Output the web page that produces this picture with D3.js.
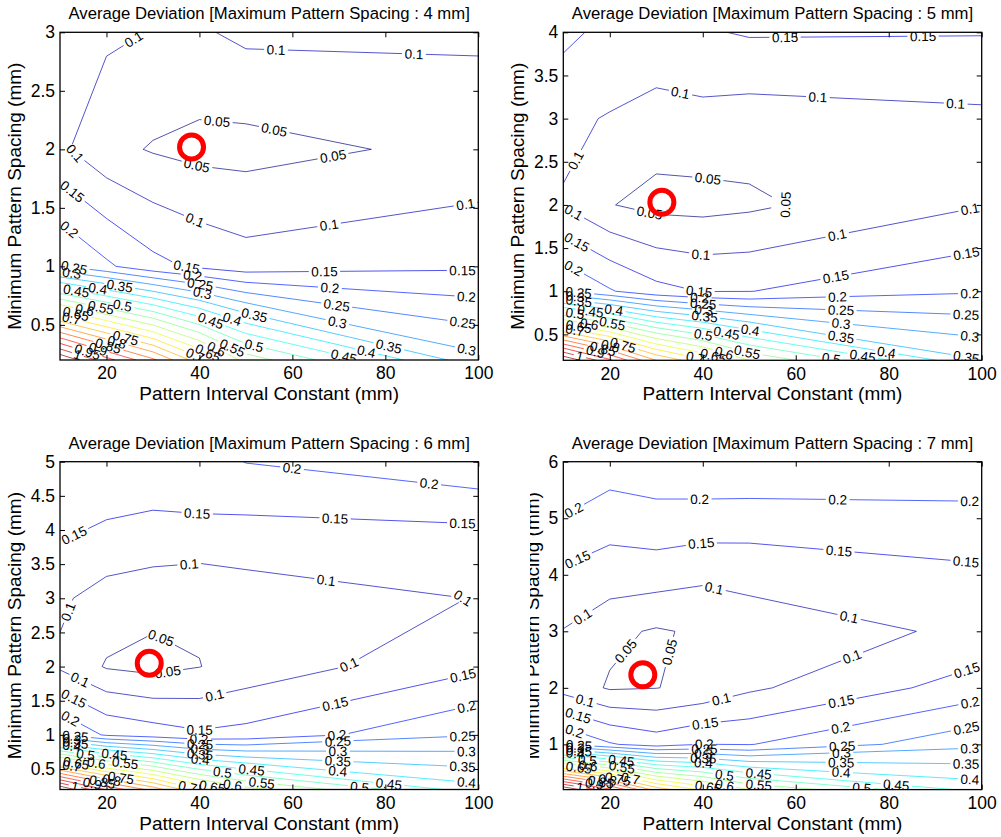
<!DOCTYPE html>
<html>
<head>
<meta charset="utf-8">
<script src="https://cdnjs.cloudflare.com/ajax/libs/d3/7.8.5/d3.min.js"></script>
<style>
  body { margin: 0; background: #fff; }
  svg text { font-family: Arial, "Liberation Sans", Helvetica, sans-serif; fill: #000; }
</style>
</head>
<body>
<svg id="fig" width="1001" height="837" viewBox="0 0 1001 837"></svg>
<script>
// Pattern interval constant (mm): grid columns of the measurements
const intervalConstant = [10, 20, 30, 40, 50, 100];

// Minimum pattern spacing (mm): grid rows, one list per maximum pattern spacing
const minSpacing4 = [0.2, 1, 2, 3];
const minSpacing5 = [0.2, 1, 2, 3, 4];
const minSpacing6 = [0.2, 1, 2, 3, 4, 5];
const minSpacing7 = [0.2, 1, 2, 3, 4, 5, 6];

// Average deviation, one row per minimum spacing (bottom row first)
const deviation4 = [
  [1.10, 0.97, 0.86, 0.72, 0.58, 0.315],
  [0.255, 0.209, 0.165, 0.14, 0.122, 0.143],
  [0.11, 0.065, 0.046, 0.035, 0.033, 0.0645],
  [0.13, 0.109, 0.098, 0.094, 0.111, 0.109]
];
const deviation5 = [
  [1.10, 0.96, 0.80, 0.71, 0.60, 0.352],
  [0.252, 0.205, 0.165, 0.148, 0.149, 0.196],
  [0.097, 0.052, 0.036, 0.034, 0.041, 0.098],
  [0.109, 0.097, 0.075, 0.085, 0.078, 0.09],
  [0.163, 0.135, 0.145, 0.145, 0.1546, 0.1525]
];
const deviation6 = [
  [1.10, 0.945, 0.83, 0.70, 0.62, 0.42],
  [0.252, 0.193, 0.175, 0.158, 0.166, 0.248],
  [0.092, 0.0456, 0.035, 0.049, 0.069, 0.1415],
  [0.108, 0.08, 0.066, 0.057, 0.0743, 0.1014],
  [0.159, 0.1425, 0.14, 0.141, 0.1355, 0.1412],
  [0.18, 0.1925, 0.1745, 0.1785, 0.2013, 0.2392]
];
const deviation7 = [
  [1.10, 0.96, 0.78, 0.69, 0.60, 0.43],
  [0.252, 0.205, 0.178, 0.201, 0.198, 0.289],
  [0.08, 0.045, 0.049, 0.0615, 0.0917, 0.175],
  [0.098, 0.061, 0.045, 0.0575, 0.068, 0.1125],
  [0.141, 0.1294, 0.1247, 0.11, 0.1188, 0.1404],
  [0.198, 0.1683, 0.1822, 0.181, 0.1745, 0.1863],
  [0.245, 0.2317, 0.2346, 0.237, 0.2474, 0.232]
];

// Contour levels
const levels = [0.05, 0.1, 0.15, 0.2, 0.25, 0.3, 0.35, 0.4, 0.45, 0.5, 0.55,
                0.6, 0.65, 0.7, 0.75, 0.8, 0.85, 0.9, 0.95, 1, 1.05];

// Chosen (interval constant, minimum spacing) for each case
const optimum4 = [38.3, 2.02];
const optimum5 = [31.2, 2.03];
const optimum6 = [29.2, 2.05];
const optimum7 = [27.1, 2.23];

// Tick labels
const xTicks = [20, 40, 60, 80, 100];
const yTicks4 = [0.5, 1, 1.5, 2, 2.5, 3];
const yTicks5 = [0.5, 1, 1.5, 2, 2.5, 3, 3.5, 4];
const yTicks6 = [0.5, 1, 1.5, 2, 2.5, 3, 3.5, 4, 4.5, 5];
const yTicks7 = [1, 2, 3, 4, 5, 6];

const maxSpacing = [4, 5, 6, 7];

const panels = [
  { ms: maxSpacing[0], rows: minSpacing4, z: deviation4, yTicks: yTicks4, opt: optimum4 },
  { ms: maxSpacing[1], rows: minSpacing5, z: deviation5, yTicks: yTicks5, opt: optimum5 },
  { ms: maxSpacing[2], rows: minSpacing6, z: deviation6, yTicks: yTicks6, opt: optimum6 },
  { ms: maxSpacing[3], rows: minSpacing7, z: deviation7, yTicks: yTicks7, opt: optimum7 }
];

// Subplot frames in pixels
const frames = [
  { left: 60,    top: 32.3,  right: 478.3, bottom: 360 },
  { left: 563.3, top: 32.3,  right: 981.7, bottom: 360.3 },
  { left: 60,    top: 461.7, right: 478.3, bottom: 789.5 },
  { left: 563.3, top: 461.7, right: 981.7, bottom: 789.6 }
];

const svg = d3.select("#fig");
const defs = svg.append("defs");

// jet colormap
function jet(t) {
  const c = v => Math.max(0, Math.min(1, v));
  return d3.rgb(255 * c(1.5 - Math.abs(4 * t - 3)),
                255 * c(1.5 - Math.abs(4 * t - 2)),
                255 * c(1.5 - Math.abs(4 * t - 1)));
}
const levelExtent = d3.extent(levels);
const levelColor = v => jet((v - levelExtent[0]) / (levelExtent[1] - levelExtent[0]));

const LABEL_FONT = 13.5;
const meas = svg.append("text").attr("font-size", LABEL_FONT).attr("visibility", "hidden");
function textWidth(s) { meas.text(s); return meas.node().getComputedTextLength(); }

// Turn d3.contours rings into open/closed isolines inside the data domain
function isolines(multi, nx, ny) {
  const eps = 1e-9;
  const inside = p => p[0] >= 0.5 - eps && p[0] <= nx - 0.5 + eps &&
                      p[1] >= 0.5 - eps && p[1] <= ny - 0.5 + eps;
  const out = [];
  multi.coordinates.forEach(poly => poly.forEach(ring => {
    const pts = ring.slice(0, -1);
    const n = pts.length;
    const ins = pts.map(inside);
    if (ins.every(Boolean)) { out.push(pts.concat([pts[0]])); return; }
    const s = ins.indexOf(false);
    let cur = [];
    for (let k = 1; k <= n; k++) {
      const i = (s + k) % n;
      if (ins[i]) cur.push(pts[i]);
      else { if (cur.length > 1) out.push(cur); cur = []; }
    }
    if (cur.length > 1) out.push(cur);
  }));
  return out;
}

function cumLen(pts) {
  const c = [0];
  for (let i = 1; i < pts.length; i++)
    c.push(c[i - 1] + Math.hypot(pts[i][0] - pts[i - 1][0], pts[i][1] - pts[i - 1][1]));
  return c;
}
function pointAt(pts, c, s) {
  let i = d3.bisectRight(c, s);
  i = Math.min(Math.max(i, 1), pts.length - 1);
  const d = c[i] - c[i - 1] || 1;
  const t = (s - c[i - 1]) / d;
  return [pts[i - 1][0] + t * (pts[i][0] - pts[i - 1][0]),
          pts[i - 1][1] + t * (pts[i][1] - pts[i - 1][1])];
}
function piece(pts, c, s0, s1) {
  const out = [pointAt(pts, c, s0)];
  for (let i = 0; i < pts.length; i++) if (c[i] > s0 && c[i] < s1) out.push(pts[i]);
  out.push(pointAt(pts, c, s1));
  return out;
}

// Inline labels: evenly spaced along the line, leftover length split between both ends
const LABEL_SPACING = 138;
const lineGen = d3.line();

panels.forEach((p, k) => {
  const F = frames[k];
  const g = svg.append("g");
  const nx = intervalConstant.length, ny = p.rows.length;

  const x = d3.scaleLinear().domain(d3.extent(intervalConstant)).range([F.left, F.right]);
  const y = d3.scaleLinear().domain(d3.extent(p.rows)).range([F.bottom, F.top]);
  // grid index -> data value (piecewise linear over the measured columns/rows)
  const colVal = d3.scaleLinear().domain(d3.range(nx)).range(intervalConstant);
  const rowVal = d3.scaleLinear().domain(d3.range(ny)).range(p.rows);
  const toScreen = q => [x(colVal(q[0] - 0.5)), y(rowVal(q[1] - 0.5))];

  defs.append("clipPath").attr("id", "plotclip" + k)
    .append("rect").attr("x", F.left).attr("y", F.top)
    .attr("width", F.right - F.left).attr("height", F.bottom - F.top);

  const plot = g.append("g").attr("clip-path", `url(#plotclip${k})`);
  const lineLayer = plot.append("g").attr("fill", "none")
    .attr("stroke-width", 0.9).attr("stroke-opacity", 0.75);
  const labelLayer = plot.append("g").attr("font-size", LABEL_FONT).attr("text-anchor", "middle");

  const sets = d3.contours().size([nx, ny]).thresholds(levels)(p.z.flat());

  sets.forEach(set => {
    const lev = set.value;
    const txt = String(lev);
    const w = textWidth(txt);
    const half = w / 2 + 2.5;
    const col = levelColor(lev);
    isolines(set, nx, ny).forEach(raw => {
      const pts = raw.map(toScreen);
      const c = cumLen(pts);
      const total = c[c.length - 1];
      const pos = [];
      if (total >= 2 * w) {
        const n = Math.floor(total / LABEL_SPACING);
        const r = total - n * LABEL_SPACING;
        for (let i = 0; i <= n; i++) {
          const s = Math.min(Math.max(r / 2 + i * LABEL_SPACING, half), total - half);
          if (!pos.length || s - pos[pos.length - 1] > 2 * half) pos.push(s);
        }
      }
      let s0 = 0;
      pos.forEach(s => {
        if (s - half > s0) lineLayer.append("path").attr("stroke", col).attr("d", lineGen(piece(pts, c, s0, s - half)));
        s0 = s + half;
      });
      if (total > s0) lineLayer.append("path").attr("stroke", col).attr("d", lineGen(piece(pts, c, s0, total)));
      pos.forEach(s => {
        const m = pointAt(pts, c, s);
        const a = pointAt(pts, c, Math.max(0, s - w / 2));
        const b = pointAt(pts, c, Math.min(total, s + w / 2));
        let ang = Math.atan2(b[1] - a[1], b[0] - a[0]) * 180 / Math.PI;
        if (ang > 90) ang -= 180;
        if (ang < -90) ang += 180;
        labelLayer.append("text")
          .attr("transform", `translate(${m[0]},${m[1]}) rotate(${ang})`)
          .attr("dy", "0.36em")
          .text(txt);
      });
    });
  });

  // chosen design point
  g.append("circle")
    .attr("cx", x(p.opt[0])).attr("cy", y(p.opt[1])).attr("r", 12)
    .attr("fill", "none").attr("stroke", "#ff0000").attr("stroke-width", 5);

  // axes
  const styleAxis = sel => {
    sel.select(".domain").remove();
    sel.attr("font-family", null).attr("font-size", 17.5);
    sel.selectAll(".tick line").attr("stroke", "#000").attr("stroke-width", 1);
  };
  g.append("g").attr("transform", `translate(0,${F.bottom})`)
    .call(d3.axisBottom(x).tickValues(xTicks).tickFormat(d => String(d))
      .tickSizeInner(-5).tickSizeOuter(0).tickPadding(7)).call(styleAxis);
  g.append("g").attr("transform", `translate(0,${F.top})`)
    .call(d3.axisTop(x).tickValues(xTicks).tickFormat("")
      .tickSizeInner(-5).tickSizeOuter(0)).call(styleAxis);
  const leftAxis = g.append("g").attr("transform", `translate(${F.left},0)`)
    .call(d3.axisLeft(y).tickValues(p.yTicks).tickFormat(d => String(d))
      .tickSizeInner(-5).tickSizeOuter(0).tickPadding(5)).call(styleAxis);
  g.append("g").attr("transform", `translate(${F.right},0)`)
    .call(d3.axisRight(y).tickValues(p.yTicks).tickFormat("")
      .tickSizeInner(-5).tickSizeOuter(0)).call(styleAxis);

  g.append("rect")
    .attr("x", F.left).attr("y", F.top)
    .attr("width", F.right - F.left).attr("height", F.bottom - F.top)
    .attr("fill", "none").attr("stroke", "#000").attr("stroke-width", 1.3);

  // title
  g.append("text")
    .attr("x", (F.left + F.right) / 2).attr("y", F.top - 13)
    .attr("text-anchor", "middle").attr("font-size", 16.7)
    .text(`Average Deviation [Maximum Pattern Spacing : ${p.ms} mm]`);

  // x label
  g.append("text")
    .attr("x", (F.left + F.right) / 2).attr("y", F.bottom + 40)
    .attr("text-anchor", "middle").attr("font-size", 19)
    .text("Pattern Interval Constant (mm)");

  // y label, placed left of the widest tick label
  let minX = Infinity;
  leftAxis.selectAll(".tick text").each(function () {
    const bb = this.getBBox();
    minX = Math.min(minX, F.left + bb.x);
  });
  const bx = minX - 10, cy = (F.top + F.bottom) / 2;
  const ylabHolder = g.append("g");
  ylabHolder.append("text")
    .attr("x", bx).attr("y", cy)
    .attr("transform", `rotate(-90,${bx},${cy})`)
    .attr("text-anchor", "middle").attr("font-size", 19)
    .text("Minimum Pattern Spacing (mm)");
  if (k === 3) {
    defs.append("clipPath").attr("id", "ylabclip3")
      .append("rect").attr("x", 530).attr("y", F.top - 20)
      .attr("width", 40).attr("height", F.bottom - F.top + 40);
    ylabHolder.attr("clip-path", "url(#ylabclip3)");
  }
});
meas.remove();
</script>
</body>
</html>
